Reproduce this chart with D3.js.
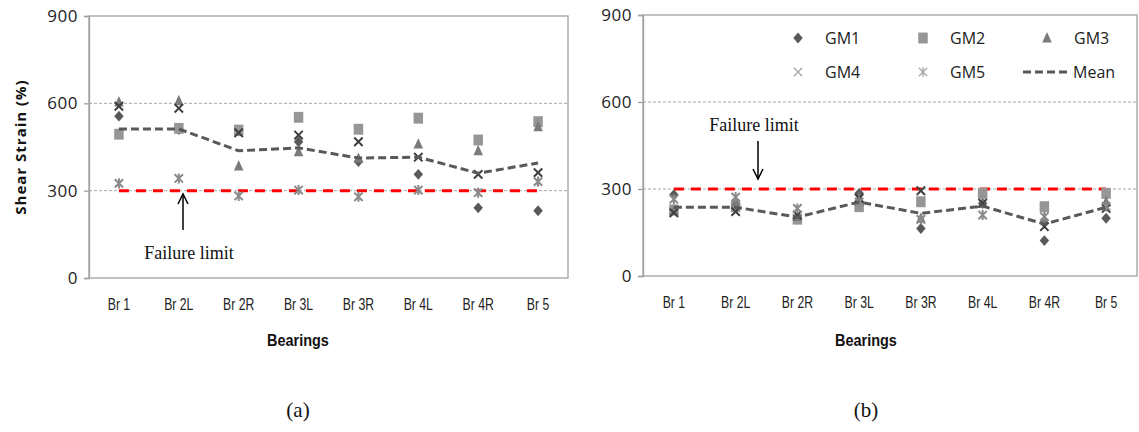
<!DOCTYPE html>
<html><head><meta charset="utf-8">
<script src="https://cdn.jsdelivr.net/npm/d3@7"></script>
<style>body{margin:0;background:#fff}svg{display:block}</style>
</head><body>
<svg id="chart" width="1139" height="432"></svg>
<script>
const categories = ["Br 1","Br 2L","Br 2R","Br 3L","Br 3R","Br 4L","Br 4R","Br 5"];
const yTicks = [0,300,600,900];
const seriesNames = ["GM1","GM2","GM3","GM4","GM5"];
// panel (a)
const a_GM1 = [556,510,505,468,400,356,241,231];
const a_GM2 = [494,514,508,552,511,549,474,537];
const a_GM3 = [605,609,385,434,411,460,437,520];
const a_GM4 = [590,583,499,491,468,415,356,362];
const a_GM5 = [325,342,282,302,279,302,293,331];
const a_Mean = [512,512,437,447,412,415,360,395];
// panel (b)
const b_GM1 = [280,250,200,285,164,250,122,199];
const b_GM2 = [228,239,196,239,256,285,239,285];
const b_GM3 = [225,256,205,270,199,250,195,256];
const b_GM4 = [218,222,210,268,294,251,170,233];
const b_GM5 = [265,272,233,255,195,210,205,240];
const b_Mean = [237,237,203,255,216,241,179,237];
const failureLimit = 300;

const svg = d3.select("#chart");

const symDiamond = {draw(c,s){const r=Math.sqrt(s)/2;c.moveTo(0,-r*1.15);c.lineTo(r,0);c.lineTo(0,r*1.15);c.lineTo(-r,0);c.closePath();}};
const symSquare = {draw(c,s){const r=Math.sqrt(s)/2;c.rect(-r,-r*1.15,2*r,2.3*r);}};
const symTri = {draw(c,s){const r=Math.sqrt(s)/2;c.moveTo(0,-r*1.25);c.lineTo(r,r*0.95);c.lineTo(-r,r*0.95);c.closePath();}};
const symX = {draw(c,s){const r=Math.sqrt(s)/2;c.moveTo(-r,-r);c.lineTo(r,r);c.moveTo(r,-r);c.lineTo(-r,r);}};
const symStar = {draw(c,s){const r=Math.sqrt(s)/2;c.moveTo(-r,-r);c.lineTo(r,r);c.moveTo(r,-r);c.lineTo(-r,r);c.moveTo(0,-r*1.2);c.lineTo(0,r*1.2);}};

const styles = [
  {type:symDiamond, size:90, fill:"#595959", stroke:"none", sw:0},
  {type:symSquare, size:90, fill:"#969696", stroke:"none", sw:0},
  {type:symTri, size:90, fill:"#7a7a7a", stroke:"none", sw:0},
  {type:symX, size:70, fill:"none", stroke:"#3f3f3f", sw:2},
  {type:symStar, size:70, fill:"none", stroke:"#8a8a8a", sw:2}
];

function panel(cfg){
  const g = svg.append("g");
  const x = d3.scaleBand().domain(categories).range([cfg.x0,cfg.x1]);
  const y = d3.scaleLinear().domain([0,900]).range([cfg.y1,cfg.y0]);
  g.selectAll(".grid").data([300,600]).enter().append("line")
    .attr("x1",cfg.x0).attr("x2",cfg.x1).attr("y1",d=>y(d)).attr("y2",d=>y(d))
    .attr("stroke","#a6a6a6").attr("stroke-width",1).attr("stroke-dasharray","3,2");
  g.append("rect").attr("x",cfg.x0).attr("y",cfg.y0).attr("width",cfg.x1-cfg.x0).attr("height",cfg.y1-cfg.y0)
    .attr("fill","none").attr("stroke","#a0a0a0").attr("stroke-width",1.3);
  const ya = g.append("g").attr("transform",`translate(${cfg.x0},0)`)
    .call(d3.axisLeft(y).tickValues(yTicks).tickSize(5).tickPadding(6));
  ya.select(".domain").attr("stroke","#a0a0a0").attr("stroke-width",1.3);
  ya.selectAll(".tick line").attr("stroke","#a0a0a0").attr("stroke-width",1.3);
  ya.selectAll("text").attr("font-family","'Open Sans',sans-serif").attr("font-size",17)
    .attr("fill","#222").attr("letter-spacing","0.5px");
  const xa = g.append("g").attr("transform",`translate(0,${cfg.y1})`)
    .call(d3.axisBottom(x).tickSize(0).tickPadding(20));
  xa.select(".domain").remove();
  xa.selectAll("text").attr("font-family","'Liberation Sans',sans-serif")
    .attr("font-size",17).attr("fill","#222").attr("transform","scale(0.72,1)");
  g.append("line").attr("x1",x(categories[0])+x.bandwidth()/2).attr("x2",x(categories[7])+x.bandwidth()/2)
    .attr("y1",y(failureLimit)).attr("y2",y(failureLimit))
    .attr("stroke","#ff0000").attr("stroke-width",3).attr("stroke-dasharray","10,7");
  cfg.series.forEach((vals,i)=>{
    const st = styles[i];
    g.append("g").selectAll("path").data(vals).enter().append("path")
      .attr("transform",(d,j)=>`translate(${x(categories[j])+x.bandwidth()/2},${y(d)})`)
      .attr("d",d3.symbol().type(st.type).size(st.size))
      .attr("fill",st.fill).attr("stroke",st.stroke).attr("stroke-width",st.sw);
  });
  const line = d3.line().x((d,j)=>x(categories[j])+x.bandwidth()/2).y(d=>y(d));
  g.append("path").attr("d",line(cfg.mean)).attr("fill","none")
    .attr("stroke","#595959").attr("stroke-width",3).attr("stroke-dasharray","8,4");
  g.append("text").attr("transform",`translate(${cfg.titleX},346) scale(0.85,1)`).attr("text-anchor","middle")
    .attr("font-family","'Liberation Sans',sans-serif").attr("font-weight","bold")
    .attr("font-size",17).attr("fill","#111").text("Bearings");
  g.append("text").attr("x",cfg.titleX).attr("y",417).attr("text-anchor","middle")
    .attr("font-family","'Liberation Serif',serif").attr("font-size",21).attr("fill","#111").text(cfg.label);
  return {g,x,y};
}

const A = panel({x0:89,x1:568,y0:16,y1:278,series:[a_GM1,a_GM2,a_GM3,a_GM4,a_GM5],mean:a_Mean,titleX:298,label:"(a)"});
const B = panel({x0:643,x1:1137,y0:15,y1:276,series:[b_GM1,b_GM2,b_GM3,b_GM4,b_GM5],mean:b_Mean,titleX:866,label:"(b)"});

svg.append("text").attr("transform","translate(26,147) rotate(-90)").attr("text-anchor","middle")
  .attr("font-family","'Open Sans',sans-serif").attr("font-weight","bold").attr("font-size",15)
  .attr("letter-spacing","1px").attr("fill","#111").text("Shear Strain (%)");

function arrow(g,x,yFrom,yTo){
  const dir = yTo<yFrom ? 1 : -1;
  g.append("line").attr("x1",x).attr("x2",x).attr("y1",yFrom).attr("y2",yTo).attr("stroke","#000").attr("stroke-width",1.5);
  g.append("path").attr("d",`M${x-5},${yTo+dir*10}L${x},${yTo}L${x+5},${yTo+dir*10}`)
    .attr("fill","none").attr("stroke","#000").attr("stroke-width",1.5);
}
const ann = svg.append("g");
arrow(ann,183,230,194);
ann.append("text").attr("x",189).attr("y",259).attr("text-anchor","middle")
  .attr("font-family","'Liberation Serif',serif").attr("font-size",18).attr("fill","#111").text("Failure limit");
arrow(ann,758,141,179);
ann.append("text").attr("x",754).attr("y",131).attr("text-anchor","middle")
  .attr("font-family","'Liberation Serif',serif").attr("font-size",18).attr("fill","#111").text("Failure limit");

const leg = svg.append("g");
const legItems = [
  {name:"GM1",i:0,x:798,y:38},{name:"GM2",i:1,x:923,y:38},{name:"GM3",i:2,x:1047,y:38},
  {name:"GM4",i:3,x:798,y:72},{name:"GM5",i:4,x:923,y:72}
];
legItems.forEach(it=>{
  const st = styles[it.i];
  leg.append("path").attr("transform",`translate(${it.x},${it.y})`)
    .attr("d",d3.symbol().type(st.type).size(st.size))
    .attr("fill",st.fill).attr("stroke",it.i>=3?"#a6a6a6":st.stroke).attr("stroke-width",it.i>=3?1.3:st.sw);
  leg.append("text").attr("x",it.x+27).attr("y",it.y+6).attr("font-family","'Open Sans',sans-serif")
    .attr("font-size",16).attr("fill","#222").text(it.name);
});
leg.append("line").attr("x1",1023).attr("x2",1070).attr("y1",72).attr("y2",72)
  .attr("stroke","#595959").attr("stroke-width",3).attr("stroke-dasharray","8,4");
leg.append("text").attr("x",1073).attr("y",78).attr("font-family","'Open Sans',sans-serif")
  .attr("font-size",16).attr("fill","#222").text("Mean");
</script>
</body></html>
